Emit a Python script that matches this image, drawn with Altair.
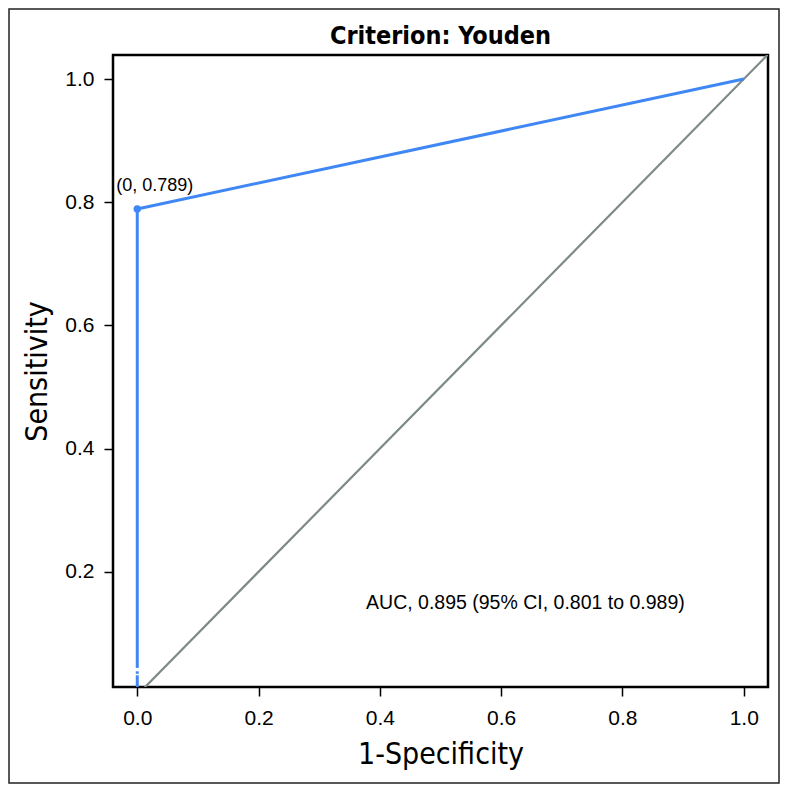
import altair as alt
import pandas as pd

# ROC curve data
roc_fpr = [0.0, 0.0, 1.0]
roc_tpr = [0.0, 0.789, 1.0]

# Optimal cut-off (Youden)
opt_fpr = [0.0]
opt_tpr = [0.789]
opt_label = ["(0, 0.789)"]

# Axis ranges and ticks
x_domain = [-0.04, 1.04]
y_domain = [0.013, 1.039]
x_ticks = [0.0, 0.2, 0.4, 0.6, 0.8, 1.0]
y_ticks = [0.2, 0.4, 0.6, 0.8, 1.0]

# Chance diagonal spans the full x range
diag_x = [x_domain[0], x_domain[1]]
diag_y = [x_domain[0], x_domain[1]]

# Small rendering gaps in the vertical segment of the curve
gap_y1 = [0.0385, 0.0320]
gap_y2 = [0.0440, 0.0345]

auc_text = ["AUC, 0.895 (95% CI, 0.801 to 0.989)"]
auc_x = [0.64]
auc_y = [0.15]

title_text = ["Criterion: Youden"]

BLUE = "#3f87f5"
GRAY = "#7d8a88"
NARROW = "Liberation Sans Narrow, DejaVu Sans Condensed, Arial Narrow, sans-serif"
REG = "Liberation Sans, Arial, Helvetica, sans-serif"

W, H = 655, 632

xs = alt.Scale(domain=x_domain, nice=False, zero=False)
ys = alt.Scale(domain=y_domain, nice=False, zero=False)

x_axis = alt.Axis(values=x_ticks, format=".1f", title="1-Specificity", grid=False,
                  domain=False, tickSize=9, tickWidth=1.5, tickColor="black",
                  labelFont=REG, labelFontSize=21, labelColor="black", labelPadding=11,
                  titleFont=NARROW, titleFontSize=30, titleFontWeight="normal",
                  titleColor="black", titlePadding=11)
y_axis = alt.Axis(values=y_ticks, format=".1f", title="Sensitivity", grid=False,
                  domain=False, tickSize=9, tickWidth=1.5, tickColor="black",
                  labelFont=REG, labelFontSize=21, labelColor="black", labelPadding=10,
                  titleFont=NARROW, titleFontSize=30, titleFontWeight="normal",
                  titleColor="black", titlePadding=12)

roc_df = pd.DataFrame({"fpr": roc_fpr, "tpr": roc_tpr, "order": list(range(len(roc_fpr)))})
diag_df = pd.DataFrame({"x": diag_x, "y": diag_y})
opt_df = pd.DataFrame({"fpr": opt_fpr, "tpr": opt_tpr, "label": opt_label})
gap_df = pd.DataFrame({"x": [0.0, 0.0], "y1": gap_y1, "y2": gap_y2})
auc_df = pd.DataFrame({"x": auc_x, "y": auc_y, "t": auc_text})
title_df = pd.DataFrame({"t": title_text})

diag = alt.Chart(diag_df).mark_line(color=GRAY, strokeWidth=2.2, clip=True).encode(
    x=alt.X("x:Q", scale=xs, axis=x_axis),
    y=alt.Y("y:Q", scale=ys, axis=y_axis),
)

roc = alt.Chart(roc_df).mark_line(color=BLUE, strokeWidth=3, clip=True).encode(
    x=alt.X("fpr:Q", scale=xs),
    y=alt.Y("tpr:Q", scale=ys),
    order="order:Q",
)

gaps = alt.Chart(gap_df).mark_rule(color="white", strokeWidth=5, clip=True).encode(
    x=alt.X("x:Q", scale=xs),
    y=alt.Y("y1:Q", scale=ys),
    y2="y2:Q",
)

pt = alt.Chart(opt_df).mark_point(filled=True, color=BLUE, size=55, opacity=1).encode(
    x=alt.X("fpr:Q", scale=xs),
    y=alt.Y("tpr:Q", scale=ys),
)

pt_lab = alt.Chart(opt_df).mark_text(font=REG, fontSize=18, color="black", align="left",
                                     baseline="middle", dx=-21, dy=-23).encode(
    x=alt.X("fpr:Q", scale=xs),
    y=alt.Y("tpr:Q", scale=ys),
    text="label:N",
)

auc = alt.Chart(auc_df).mark_text(font=REG, fontSize=19.5, color="black", align="center",
                                  baseline="middle").encode(
    x=alt.X("x:Q", scale=xs),
    y=alt.Y("y:Q", scale=ys),
    text="t:N",
)

title = alt.Chart(title_df).mark_text(font=NARROW, fontSize=25, fontWeight="bold",
                                      color="black", align="center",
                                      baseline="alphabetic").encode(
    x=alt.value(W / 2), y=alt.value(-11), text="t:N",
)

border_df = pd.DataFrame({"k": [0]})
border = alt.Chart(border_df).mark_rect(fill=None, stroke="#222222", strokeWidth=1.5).encode(
    x=alt.value(-104), x2=alt.value(666), y=alt.value(-46), y2=alt.value(728),
)

chart = alt.layer(diag, roc, gaps, pt, pt_lab, auc, title, border).properties(
    width=W, height=H,
    autosize=alt.AutoSizeParams(type="none"),
    padding={"left": 105, "top": 47, "right": 12, "bottom": 97},
).configure(background="white").configure_view(stroke="black", strokeWidth=2.5)

chart.save("out.html", embed_options={"renderer": "svg", "actions": False})
